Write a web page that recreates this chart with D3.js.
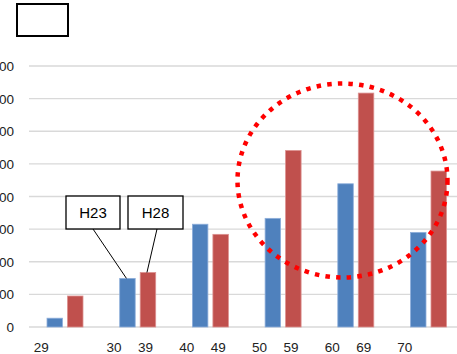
<!DOCTYPE html>
<html lang="en">
<head>
<meta charset="UTF-8"/>
<title>Bar chart H23 / H28</title>
<script src="https://d3js.org/d3.v7.min.js"></script>
<style>
  body { margin: 0; background: #fff; }
  text { font-family: "Liberation Sans", Arial, sans-serif; }
</style>
</head>
<body>
<script>
// data
var categories = ["c1", "c2", "c3", "c4", "c5", "c6"];
var labelsLeft = ["29", "30", "40", "50", "60", "70"];
var labelsRight = ["", "39", "49", "59", "69", ""];
var seriesNames = ["H23", "H28"];
var h23 = [27, 149, 315, 333, 439, 290];
var h28 = [95, 167, 284, 541, 717, 478];
var yTicks = [0, 100, 200, 300, 400, 500, 600, 700, 800];

var w = 457;
var h = 354;
var colors = {"H23": "#4f81bd", "H28": "#c0504d"};

var svg = d3.select("body")
            .append("svg")
            .attr("width", w)
            .attr("height", h);

var xScale = d3.scaleBand()
               .domain(categories)
               .range([29, 29 + 6 * 72.7]);

var sScale = d3.scaleBand()
               .domain(seriesNames)
               .range([18, 54])
               .paddingInner(0.244);

var yScale = d3.scaleLinear()
               .domain([0, 800])
               .range([327, 66]);

// gridlines
svg.selectAll("line.grid")
    .data(yTicks)
    .enter()
    .append("line")
    .attr("class", "grid")
    .attr("x1", 29)
    .attr("x2", w)
    .attr("y1", d => yScale(d))
    .attr("y2", d => yScale(d))
    .attr("stroke", "#d9d9d9")
    .attr("stroke-width", 1.3);

// y labels (clipped at left edge like the original)
svg.selectAll("text.ylab")
    .data(yTicks)
    .enter()
    .append("text")
    .attr("class", "ylab")
    .attr("x", 14)
    .attr("y", d => yScale(d) + 5)
    .attr("text-anchor", "end")
    .attr("font-size", "13.5px")
    .attr("fill", "#222")
    .text(d => d);

// bars
var rows = categories.map((c, i) => ({cat: c, H23: h23[i], H28: h28[i]}));

var groups = svg.selectAll("g.cat")
    .data(rows)
    .enter()
    .append("g")
    .attr("transform", d => "translate(" + xScale(d.cat) + ",0)");

groups.selectAll("rect")
    .data(d => seriesNames.map(s => ({s: s, v: d[s]})))
    .enter()
    .append("rect")
    .attr("x", d => sScale(d.s))
    .attr("y", d => yScale(d.v))
    .attr("width", sScale.bandwidth())
    .attr("height", d => yScale(0) - yScale(d.v))
    .attr("fill", d => colors[d.s])
    .attr("stroke", d => d.s == "H23" ? "#8eaedb" : "#dc9190")
    .attr("stroke-width", 0.8);

// x labels
groups.append("text")
    .attr("x", xScale.bandwidth() / 2 - 24)
    .attr("y", 352)
    .attr("text-anchor", "middle")
    .attr("font-size", "13.5px")
    .attr("fill", "#222")
    .text((d, i) => labelsLeft[i]);

groups.append("text")
    .attr("x", xScale.bandwidth() / 2 + 7.5)
    .attr("y", 352)
    .attr("text-anchor", "middle")
    .attr("font-size", "13.5px")
    .attr("fill", "#222")
    .text((d, i) => labelsRight[i]);

// empty title box
svg.append("rect")
    .attr("x", 17)
    .attr("y", 4)
    .attr("width", 51)
    .attr("height", 32)
    .attr("fill", "#fff")
    .attr("stroke", "#000")
    .attr("stroke-width", 2);

// callouts
var callouts = [
    {s: "H23", bx: 66, by: 196, bw: 54, bh: 33, lx: 93},
    {s: "H28", bx: 128, by: 196, bw: 55, bh: 33, lx: 157}
];
callouts.forEach(function(c) {
    var i = seriesNames.indexOf(c.s);
    var vals = i == 0 ? h23 : h28;
    var tx = xScale(categories[1]) + sScale(c.s) + sScale.bandwidth() / 2;
    svg.append("line")
        .attr("x1", c.lx)
        .attr("y1", c.by + c.bh)
        .attr("x2", tx - 1)
        .attr("y2", yScale(vals[1]))
        .attr("stroke", "#000")
        .attr("stroke-width", 1);
    svg.append("rect")
        .attr("x", c.bx)
        .attr("y", c.by)
        .attr("width", c.bw)
        .attr("height", c.bh)
        .attr("fill", "#fff")
        .attr("stroke", "#000")
        .attr("stroke-width", 1.3);
    svg.append("text")
        .attr("x", c.bx + c.bw / 2)
        .attr("y", c.by + c.bh / 2 + 5.5)
        .attr("text-anchor", "middle")
        .attr("font-size", "15px")
        .attr("fill", "#000")
        .text(c.s);
});

// red dotted highlight
svg.append("ellipse")
    .attr("cx", 342.5)
    .attr("cy", 180.5)
    .attr("rx", 105)
    .attr("ry", 97)
    .attr("fill", "none")
    .attr("stroke", "#ff0000")
    .attr("stroke-width", 4.5)
    .attr("stroke-dasharray", "4.5,6.2");
</script>
</body>
</html>
